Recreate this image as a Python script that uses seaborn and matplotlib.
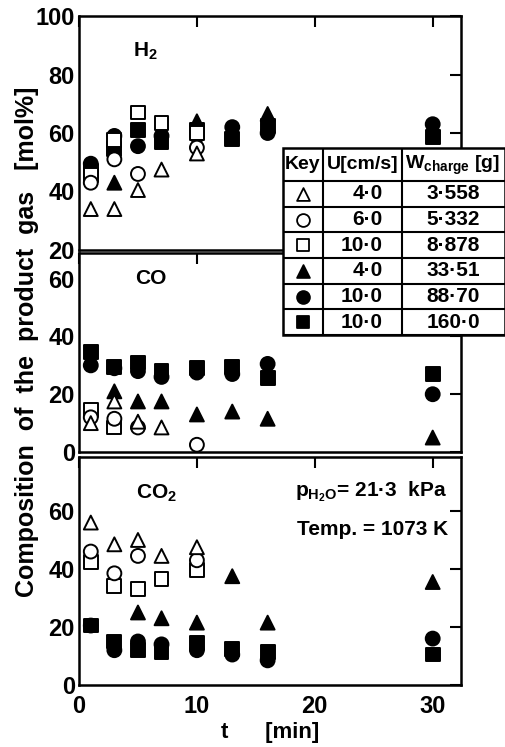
import matplotlib
matplotlib.use("Agg")
import matplotlib.pyplot as plt
import seaborn as sns
import pandas as pd

# ---------------- data ----------------
series_names = ["S1", "S2", "S3", "S4", "S5", "S6"]
series_markers = ["^", "o", "s", "^", "o", "s"]
series_faces = ["white", "white", "white", "black", "black", "black"]
u_labels = ["4·0", "6·0", "10·0", "4·0", "10·0", "10·0"]
w_labels = ["3·558", "5·332", "8·878", "33·51", "88·70", "160·0"]

# H2 panel
h2_t = {"S1": [1, 3, 5, 7, 10], "S2": [1, 3, 5, 10], "S3": [1, 3, 5, 7, 10],
        "S4": [3, 10, 16], "S5": [1, 3, 5, 7, 10, 13, 16, 30],
        "S6": [1, 3, 5, 7, 10, 13, 16, 30]}
h2_v = {"S1": [34, 34, 40.5, 47.5, 53], "S2": [43, 51, 46, 55],
        "S3": [45.5, 57.5, 67, 63.5, 60], "S4": [43, 64, 66.5],
        "S5": [49.5, 59, 55.5, 59, 59, 62, 60, 63],
        "S6": [47, 54.5, 61, 57, 61, 58, 62.5, 58.5]}
# CO panel
co_t = {"S1": [1, 3, 5, 7], "S2": [1, 3, 5, 10], "S3": [1, 3],
        "S4": [3, 5, 7, 10, 13, 16, 30], "S5": [1, 3, 5, 7, 10, 13, 16, 30],
        "S6": [1, 3, 5, 7, 10, 13, 16, 30]}
co_v = {"S1": [10, 17.5, 10.5, 8.5], "S2": [12, 11.5, 8.5, 2.5], "S3": [14.5, 8.5],
        "S4": [21, 17.5, 17.5, 13, 14, 11.5, 5],
        "S5": [30, 29, 28, 26, 27.5, 27, 30.5, 20],
        "S6": [34.5, 29.5, 31, 28, 29, 29.5, 25.5, 27]}
# CO2 panel
co2_t = {"S1": [1, 3, 5, 7, 10], "S2": [1, 3, 5, 10], "S3": [1, 3, 5, 7, 10],
         "S4": [5, 7, 10, 13, 16, 30], "S5": [1, 3, 5, 7, 10, 13, 16, 30],
         "S6": [1, 3, 5, 7, 10, 13, 16, 30]}
co2_v = {"S1": [56, 48.5, 50, 44.5, 47.5], "S2": [46, 38.5, 44.5, 43],
         "S3": [42.5, 34, 33, 36.5, 39.5], "S4": [25, 23, 21.5, 37.5, 21.5, 35.5],
         "S5": [20.5, 12, 15, 14, 12, 10.5, 8.5, 16],
         "S6": [20.5, 15, 12, 11.5, 14.5, 12.5, 11.5, 10.5]}

x_ticks = [0, 10, 20, 30]
h2_yticks = [20, 40, 60, 80, 100]
co_yticks = [0, 20, 40, 60]
co2_yticks = [0, 20, 40, 60]

# ---------------- build frame ----------------
rows = []
for gas, tt, vv in [("H2", h2_t, h2_v), ("CO", co_t, co_v), ("CO2", co2_t, co2_v)]:
    for name in ["S6", "S5", "S4", "S3", "S2", "S1"]:
        for t, v in zip(tt[name], vv[name]):
            rows.append({"gas": gas, "series": name, "t": t, "value": v})
df = pd.DataFrame(rows)

sns.set_theme(style="white")
plt.rcParams["font.family"] = ["Liberation Sans", "DejaVu Sans"]
plt.rcParams["font.weight"] = "bold"
plt.rcParams["mathtext.default"] = "regular"
plt.rcParams["text.color"] = "black"
plt.rcParams["axes.labelcolor"] = "black"
plt.rcParams["axes.labelweight"] = "bold"

W, H = 506, 747
fig = plt.figure(figsize=(W / 100, H / 100), dpi=100)


def fax(left, top, right, bottom):
    return fig.add_axes([left / W, 1 - bottom / H, (right - left) / W, (bottom - top) / H])


ax1 = fax(79, 16, 461, 250)
ax2 = fax(79, 253, 461, 452)
ax3 = fax(79, 457, 461, 685)

marker_map = dict(zip(series_names, series_markers))
face_map = dict(zip(series_names, series_faces))

panel_cfg = [(ax1, "H2", (20, 100), h2_yticks),
             (ax2, "CO", (0, 68.9), co_yticks),
             (ax3, "CO2", (0, 78.6), co2_yticks)]
for ax, gas, ylim, yt in panel_cfg:
    sub = df[df.gas == gas]
    sns.scatterplot(data=sub, x="t", y="value", hue="series", style="series",
                    markers=marker_map, palette=face_map, edgecolor="black",
                    linewidth=1.4, s=100, legend=False, ax=ax, zorder=3)
    ax.set_xlim(0, 32.4)
    ax.set_ylim(*ylim)
    ax.set_xticks(x_ticks)
    ax.set_yticks(yt)
    ax.set_xlabel("")
    ax.set_ylabel("")
    ax.tick_params(direction="in", length=8, width=1.5, top=True, right=True,
                   labelsize=17, pad=3, colors="black")
    ax.tick_params(axis="x", pad=7)
    for sp in ax.spines.values():
        sp.set_linewidth(1.8)
        sp.set_color("black")
    ax.set_facecolor("white")
    if ax is not ax3:
        ax.tick_params(labelbottom=False)

ax1.text(4.6, 88, "H$_2$", fontsize=15, ha="left", va="center")
ax2.text(4.8, 60, "CO", fontsize=15, ha="left", va="center")
ax3.text(4.8, 66, "CO$_2$", fontsize=15, ha="left", va="center")
ax3.text(18.3, 66.5, "p$_{H_2O}$= 21·3  kPa", fontsize=15,
         ha="left", va="center")
ax3.text(18.5, 53.5, "Temp. = 1073 K", fontsize=15, ha="left", va="center")

ax3.set_xlabel("t      [min]", fontsize=16, labelpad=3)
fig.text(27 / W, 1 - 342 / H, "Composition  of  the  product  gas   [mol%]",
         rotation=90, fontsize=18, ha="center", va="center")

# ---------------- key table ----------------
tl, tt_, tr, tb = 283, 148, 505, 335
tab = fax(tl, tt_, tr, tb)
tab.set_xlim(0, tr - tl)
tab.set_ylim(tb - tt_, 0)
tab.axis("off")
tab.add_patch(plt.Rectangle((0, 0), tr - tl, tb - tt_, facecolor="white",
                            edgecolor="black", linewidth=1.8, clip_on=False))
col_x = [0, 40, 119, tr - tl]
header_h = 33
row_h = (tb - tt_ - header_h) / 6
for cx in col_x[1:-1]:
    tab.plot([cx, cx], [0, tb - tt_], color="black", lw=1.5)
for i in range(7):
    y = header_h + i * row_h
    tab.plot([0, tr - tl], [y, y], color="black", lw=1.5)
tab.text(20, header_h / 2, "Key", fontsize=14, ha="center", va="center")
tab.text(79.5, header_h / 2, "U[cm/s]", fontsize=14, ha="center", va="center")
tab.text(170, header_h / 2 + 1, "W$_{charge}$ [g]", fontsize=14,
         ha="center", va="center")
for i, name in enumerate(series_names):
    yc = header_h + (i + 0.5) * row_h
    tab.scatter([20], [yc], marker=marker_map[name], s=85,
                facecolor=face_map[name], edgecolor="black", linewidth=1.3)
    tab.text(100, yc, u_labels[i], fontsize=15, ha="right", va="center")
    tab.text(170, yc, w_labels[i], fontsize=15, ha="center", va="center")

fig.savefig("out.png", dpi=100, facecolor="white")
